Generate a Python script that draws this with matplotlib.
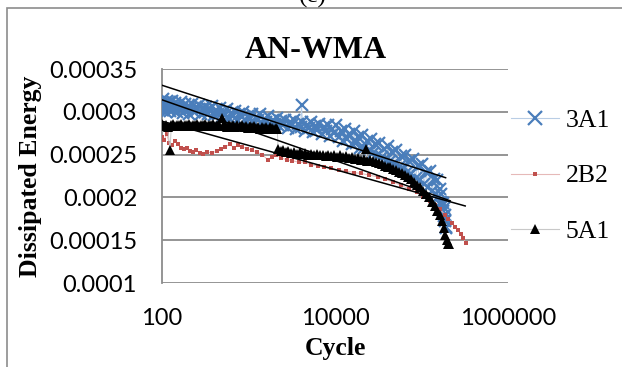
import numpy as np
import matplotlib
matplotlib.use("Agg")
import matplotlib.pyplot as plt
from matplotlib.patches import Rectangle
from matplotlib.lines import Line2D

# 3A1 (blue crosses), values in 1e-4
cyc_3a1 = [100, 102, 104, 106, 108, 111, 113, 116, 118, 121, 124, 127, 131, 135, 139, 143, 148, 153, 158,
           164, 170, 176, 183, 190, 198, 206, 215, 225, 235, 246, 257, 270, 282, 296, 310, 326, 342,
           360, 378, 398, 418, 440, 463, 488, 513, 540, 570, 600, 633, 668, 705, 745, 785, 830, 875,
           925, 975, 1030, 1090, 1150, 1220, 1290, 1360, 1440, 1520, 1610, 1700, 1800, 1900, 2010,
           2130, 2250, 2380, 2520, 2670, 2830, 2990, 3170, 3350, 3550, 3750, 4000, 4100, 4200, 4450,
           4700, 5000, 5300, 5600, 5900, 6250, 6600, 7000, 7400, 7850, 8300, 8800, 9300, 9850,
           10400, 11000, 11700, 12400, 13100, 13900, 14700, 15600, 16500, 17500, 18500, 19600, 20700,
           21900, 23200, 24600, 26000, 27500, 29100, 30800, 32600, 34500, 36500, 38600, 40900, 43300,
           45800, 48500, 51300, 54300, 57400, 60800, 64300, 68000, 72000, 76200, 80600, 85300, 90300,
           95600, 101000, 107000, 113000, 119000, 126000, 133000, 140000, 146000, 152000, 157000,
           162000, 166000, 170000, 173000, 176000, 179000, 181000, 183000, 185000, 187000, 188000,
           190000, 191000]
val_3a1 = [3.10, 3.02, 3.15, 3.05, 3.09, 3.00, 3.13, 3.04, 3.08, 3.11, 3.01, 3.07, 3.13, 3.02, 3.06, 3.10, 3.00, 3.08, 3.03,
           3.11, 3.05, 2.99, 3.09, 3.03, 3.07, 2.98, 3.05, 3.09, 3.00, 3.06, 3.02, 3.08, 2.97, 3.04, 3.00, 3.06, 2.97,
           3.03, 3.07, 2.96, 3.02, 2.98, 3.05, 2.94, 3.00, 2.96, 3.03, 2.93, 2.99, 2.95, 3.01, 2.91, 2.97, 2.94, 3.00,
           2.89, 2.95, 2.92, 2.98, 2.88, 2.94, 2.90, 2.97, 2.86, 2.92, 2.88, 2.95, 2.85, 2.90, 2.86,
           2.93, 2.83, 2.89, 2.85, 2.91, 2.81, 2.88, 2.84, 2.90, 2.80, 2.86, 2.82, 3.08, 2.88, 2.78,
           2.85, 2.81, 2.88, 2.76, 2.83, 2.79, 2.86, 2.74, 2.82, 2.77, 2.85, 2.72, 2.80, 2.75,
           2.84, 2.70, 2.78, 2.66, 2.80, 2.68, 2.74, 2.62, 2.77, 2.63, 2.70, 2.58, 2.73,
           2.58, 2.66, 2.54, 2.68, 2.52, 2.62, 2.49, 2.64, 2.47, 2.57, 2.44, 2.60, 2.42,
           2.53, 2.39, 2.55, 2.36, 2.48, 2.33, 2.50, 2.30, 2.43, 2.27, 2.45, 2.23, 2.37,
           2.20, 2.39, 2.16, 2.30, 2.12, 2.31, 2.08, 2.22, 2.04, 2.20, 2.00,
           2.10, 1.95, 2.04, 1.90, 1.94, 1.84, 1.88, 1.78, 1.80, 1.72, 1.74,
           1.66, 1.64]

# 2B2 (red dots)
cyc_2b2 = [100, 106, 113, 121, 130, 141, 153, 166, 180, 194, 210, 227, 250, 275, 300, 335, 375, 430, 480,
           540, 605, 680, 760, 850, 960, 1100, 1250, 1450, 1660, 1850, 2100, 2400, 2750, 3200, 3800,
           4500, 5300, 6300, 7500, 9000, 11000, 13500, 16500, 20000, 25000, 31000, 38000, 47000, 58000,
           72000, 88000, 105000, 125000, 145000, 165000, 185000, 205000, 225000, 245000, 265000, 285000,
           305000, 325000]
val_2b2 = [2.71, 2.67, 2.74, 2.64, 2.61, 2.66, 2.62, 2.58, 2.56, 2.58, 2.54, 2.53, 2.55, 2.52, 2.51, 2.53, 2.52, 2.54, 2.57,
           2.59, 2.62, 2.58, 2.61, 2.59, 2.57, 2.55, 2.53, 2.50, 2.44, 2.47, 2.50, 2.46, 2.44, 2.43, 2.41,
           2.41, 2.38, 2.37, 2.35, 2.34, 2.32, 2.31, 2.29, 2.28, 2.26, 2.24, 2.21, 2.18, 2.14,
           2.10, 2.06, 2.01, 1.96, 1.91, 1.86, 1.80, 1.75, 1.70, 1.66, 1.62, 1.57,
           1.52, 1.47]

# 5A1 (black triangles)
cyc_5a1 = [100, 105, 110, 116, 124, 128, 135, 142, 150, 158, 167, 176, 186, 196, 207, 218, 230, 243, 256,
           270, 285, 300, 317, 334, 352, 372, 392, 414, 437, 461, 490, 513, 541, 571, 602, 635, 670, 707,
           746, 787, 830, 876, 924, 975, 1030, 1090, 1150, 1210, 1280, 1350, 1420, 1500, 1580, 1670,
           1760, 1860, 1960, 2070, 2150,
           2200, 2350, 2500, 2700, 2900, 3100, 3350, 3600, 3900, 4200, 4500, 4900, 5300, 5700, 6200,
           6700, 7200, 7800, 8400, 9100, 9800, 10600, 11500, 12400, 13400, 14500, 15700, 17000, 18400,
           19900, 21500, 23000, 23300, 25200, 27300, 29500, 32000, 34600, 37400, 40500, 43800, 47400,
           51300, 55500, 60000, 65000, 70300, 76000, 82300, 89000, 96300, 104000, 113000, 122000,
           132000, 142000, 152000, 162000, 171000, 180000, 188000, 195000, 201000, 206000]
val_5a1 = [2.86, 2.83, 2.85, 2.82, 2.55, 2.84, 2.86, 2.83, 2.85, 2.84, 2.86, 2.83, 2.85, 2.84, 2.86, 2.83, 2.85, 2.84, 2.86,
           2.83, 2.85, 2.84, 2.86, 2.83, 2.85, 2.84, 2.86, 2.83, 2.85, 2.84, 2.93, 2.83, 2.85, 2.82, 2.84, 2.83, 2.85, 2.82,
           2.84, 2.83, 2.84, 2.82, 2.83, 2.81, 2.83, 2.82, 2.83, 2.81, 2.82, 2.80, 2.82, 2.81, 2.82, 2.80,
           2.82, 2.81, 2.80, 2.81, 2.80,
           2.56, 2.54, 2.55, 2.53, 2.54, 2.52, 2.53, 2.51, 2.53, 2.51, 2.52, 2.50, 2.51, 2.49, 2.51,
           2.49, 2.50, 2.48, 2.50, 2.48, 2.49, 2.47, 2.49, 2.47, 2.48, 2.46, 2.47, 2.45, 2.46,
           2.44, 2.45, 2.56, 2.43, 2.44, 2.42, 2.41, 2.40, 2.39, 2.37, 2.36, 2.35, 2.33,
           2.32, 2.30, 2.28, 2.26, 2.24, 2.21, 2.18, 2.15, 2.12, 2.08, 2.04, 2.00,
           1.95, 1.90, 1.84, 1.79, 1.72, 1.64, 1.56, 1.50, 1.46, 1.45]

# trendlines (end points)
trend_cyc = {"3A1": [100, 190000], "2B2": [100, 320000], "5A1": [100, 215000]}
trend_val = {"3A1": [3.31, 2.23], "2B2": [2.89, 1.90], "5A1": [3.14, 1.96]}

yticks = [0.0001, 0.00015, 0.0002, 0.00025, 0.0003, 0.00035]
ytick_labels = ["0.0001", "0.00015", "0.0002", "0.00025", "0.0003", "0.00035"]
xticks = [100, 10000, 1000000]
xtick_labels = ["100", "10000", "1000000"]

W, H = 622, 367
fig = plt.figure(figsize=(W / 100, H / 100), dpi=100)
ax = fig.add_axes([162 / W, 1 - 283 / H, (508 - 162) / W, (283 - 69) / H])

blue = "#4a7ebb"
red = "#c0504d"
sc = 1e-4

ax.plot(cyc_3a1, np.array(val_3a1) * sc, color="#b9cde5", lw=0.7, marker="x", ms=8, mew=1.6,
        mec=blue, mfc=blue, zorder=3)
ax.plot(cyc_2b2, np.array(val_2b2) * sc, color="#e6b9b8", lw=0.7, marker="s", ms=2.8, mew=0,
        mfc=red, zorder=4)
ax.plot(cyc_5a1, np.array(val_5a1) * sc, color="#c8c8c8", lw=0.7, marker="^", ms=6.5, mew=0,
        mfc="black", zorder=5)
for k in ["3A1", "2B2", "5A1"]:
    ax.plot(trend_cyc[k], np.array(trend_val[k]) * sc, color="black", lw=1.1, zorder=6)

ax.set_xscale("log")
ax.set_xlim(100, 1000000)
ax.set_ylim(0.0001, 0.00035)
ax.set_xticks(xticks)
ax.set_xticklabels(xtick_labels)
ax.xaxis.set_minor_locator(matplotlib.ticker.NullLocator())
ax.set_yticks(yticks)
ax.set_yticklabels(ytick_labels)
ax.tick_params(length=0, labelsize=17)
ax.tick_params(axis="y", pad=18)
ax.tick_params(axis="x", pad=18)
for lab in ax.get_xticklabels() + ax.get_yticklabels():
    lab.set_family("Lato")

ax.grid(axis="y", color="#8c8c8c", lw=1.3)
ax.set_axisbelow(True)
for s in ["top", "right", "bottom"]:
    ax.spines[s].set_visible(False)
ax.spines["left"].set_color("#8c8c8c")
ax.spines["left"].set_linewidth(1.3)

serif = "Liberation Serif"
ax.set_xlabel("Cycle", fontsize=18.5, fontweight="bold", family=serif, labelpad=6)
ax.set_ylabel("Dissipated Energy", fontsize=18.5, fontweight="bold", family=serif, labelpad=5)
fig.text(316 / W, 1 - 58 / H, "AN-WMA", fontsize=23, fontweight="bold", family=serif,
         ha="center", va="baseline")
# panel label, cut by the top edge as in the source figure
fig.text(313 / W, 1 - 3 / H, "(c)", fontsize=18, family=serif, ha="center", va="baseline")

handles = [
    Line2D([], [], color="#b9cde5", lw=0.8, marker="x", ms=10, mew=1.6, mec=blue),
    Line2D([], [], color="#e6b9b8", lw=0.8, marker="s", ms=2.8, mew=0, mfc=red),
    Line2D([], [], color="#c8c8c8", lw=0.8, marker="^", ms=7, mew=0, mfc="black"),
]
ax.legend(handles, ["3A1", "2B2", "5A1"], loc="center left", bbox_to_anchor=(1.0, 0.5),
          frameon=False, prop={"family": serif, "size": 18.5}, handlelength=1.9,
          handletextpad=0.25, labelspacing=1.25, borderaxespad=0.1, borderpad=0)

fig.add_artist(Rectangle((6.5 / W, -0.1), 1.2, 1.1 - 8 / H, transform=fig.transFigure,
                         fill=False, edgecolor="#8c8c8c", lw=1.2, clip_on=False))

fig.savefig("out.png", dpi=100)
